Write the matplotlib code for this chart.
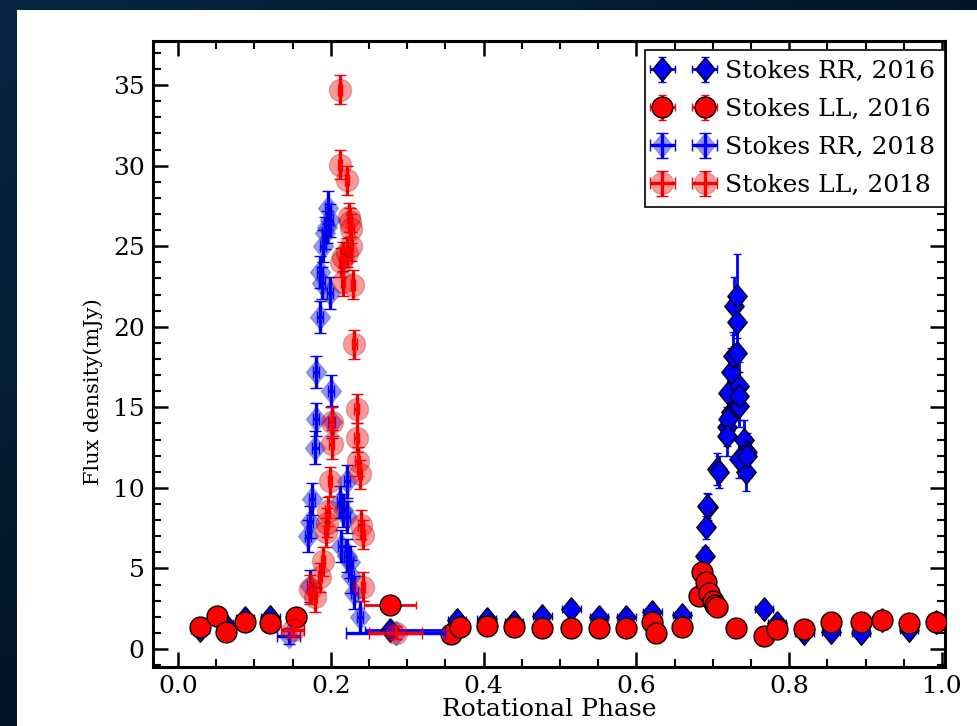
import numpy as np
import matplotlib
matplotlib.use("Agg")
import matplotlib.pyplot as plt
from matplotlib.patches import Rectangle
from matplotlib.ticker import MultipleLocator

plt.rcParams['font.family'] = ['DejaVu Serif']

# ---------------- data ----------------
# Stokes RR 2016 (blue opaque diamonds)
rr16_x = [0.029, 0.060, 0.088, 0.121, 0.278, 0.365, 0.404, 0.440, 0.477, 0.515,
          0.551, 0.587, 0.621, 0.660, 0.767, 0.784, 0.820, 0.855, 0.894, 0.921,
          0.957, 0.992,
          0.690, 0.691, 0.694, 0.693, 0.705, 0.708, 0.719, 0.724, 0.735, 0.720,
          0.720, 0.719, 0.724, 0.726, 0.732, 0.728, 0.732, 0.732, 0.735, 0.735,
          0.741, 0.745, 0.744, 0.735, 0.745]
rr16_y = [1.2, 1.6, 1.9, 2.0, 1.15, 1.8, 1.85, 1.7, 2.05, 2.45,
          2.0, 2.0, 2.3, 2.1, 2.5, 1.6, 1.0, 1.05, 1.0, 1.8,
          1.2, 1.7,
          5.75, 7.55, 8.8, 8.9, 11.15, 11.0, 13.8, 14.7, 15.1, 15.9,
          14.25, 13.2, 17.2, 18.2, 18.4, 21.3, 20.3, 21.9, 16.3, 15.7,
          13.0, 12.2, 11.0, 11.8, 12.0]
rr16_yerr = [0.3] * 22 + [0.6, 0.7, 0.8, 0.8, 1.0, 1.0, 1.2, 1.2, 1.3, 1.3,
                          1.3, 1.2, 1.5, 1.5, 1.6, 1.8, 1.8, 2.6, 1.5, 1.5,
                          1.2, 1.2, 1.2, 1.2, 1.2]
rr16_xlo = [0.012] * 4 + [0.033] + [0.012] * 17 + [0.006] * 25
rr16_xhi = [0.012] * 4 + [0.072] + [0.012] * 17 + [0.006] * 25

# Stokes LL 2016 (red opaque circles)
ll16_x = [0.029, 0.051, 0.063, 0.088, 0.121, 0.155, 0.277, 0.358, 0.369, 0.404,
          0.440, 0.477, 0.515, 0.551, 0.587, 0.621, 0.626, 0.660, 0.682, 0.686,
          0.691, 0.695, 0.700, 0.703, 0.706, 0.731, 0.767, 0.784, 0.820, 0.855,
          0.894, 0.921, 0.957, 0.992]
ll16_y = [1.35, 2.05, 1.05, 1.65, 1.6, 2.0, 2.7, 0.93, 1.35, 1.45,
          1.35, 1.3, 1.3, 1.3, 1.3, 1.65, 1.0, 1.35, 3.3, 4.75,
          4.15, 3.5, 3.0, 2.7, 2.6, 1.3, 0.8, 1.25, 1.25, 1.65,
          1.65, 1.8, 1.6, 1.65]
ll16_yerr = [0.25] * 34
ll16_xerr = [0.012] * 6 + [0.034] + [0.012] * 27

# Stokes RR 2018 (blue translucent diamonds)
rr18_x = [0.145, 0.173, 0.170, 0.173, 0.176, 0.180, 0.181, 0.181, 0.186, 0.186,
          0.188, 0.190, 0.192, 0.195, 0.196, 0.199, 0.199, 0.200, 0.201, 0.212,
          0.216, 0.221, 0.221, 0.214, 0.221, 0.225, 0.227, 0.231, 0.238, 0.285]
rr18_y = [0.8, 3.9, 7.0, 7.9, 9.3, 12.5, 14.25, 17.2, 20.6, 23.4,
          22.7, 25.0, 25.8, 26.2, 27.4, 26.6, 22.1, 16.0, 14.1, 9.1,
          8.6, 8.2, 10.4, 6.4, 5.8, 5.4, 4.5, 3.5, 2.0, 1.0]
rr18_yerr = [0.5] + [1.0] * 28 + [0.4]
rr18_xerr = [0.015] + [0.004] * 28 + [0.065]

# Stokes LL 2018 (red translucent circles)
ll18_x = [0.150, 0.173, 0.179, 0.186, 0.190, 0.194, 0.195, 0.196, 0.199, 0.201,
          0.201, 0.212, 0.212, 0.214, 0.216, 0.216, 0.221, 0.221, 0.224, 0.225,
          0.226, 0.227, 0.229, 0.231, 0.234, 0.234, 0.235, 0.238, 0.239, 0.242,
          0.242, 0.285]
ll18_y = [1.2, 3.7, 3.2, 4.45, 5.45, 7.25, 7.85, 8.55, 10.4, 12.7,
          14.1, 34.7, 30.05, 24.0, 24.35, 22.8, 29.1, 24.6, 26.8, 26.5,
          25.0, 26.1, 22.6, 18.9, 14.9, 13.1, 11.65, 10.85, 7.7, 7.1,
          3.85, 1.0]
ll18_yerr = [0.4] + [0.9] * 30 + [0.4]
ll18_xerr = [0.015] + [0.003] * 30 + [0.035]

labels = ["Stokes RR, 2016", "Stokes LL, 2016", "Stokes RR, 2018", "Stokes LL, 2018"]
xticks = [0.0, 0.2, 0.4, 0.6, 0.8, 1.0]
yticks = [0, 5, 10, 15, 20, 25, 30, 35]

# ---------------- figure ----------------
W, H = 978, 726
fig = plt.figure(figsize=(W / 100, H / 100), dpi=100)

# dark gradient frame
bg = fig.add_axes([0, 0, 1, 1], zorder=-10)
gx, gy = np.meshgrid(np.linspace(0, 1, 200), np.linspace(0, 1, 200))
t = np.clip(0.55 * gx + 0.6 * gy, 0, 1)
c0 = np.array([0.02, 0.15, 0.26])
c1 = np.array([0.0, 0.04, 0.08])
img = c0[None, None, :] * (1 - t[..., None]) + c1[None, None, :] * t[..., None]
bg.imshow(img, extent=[0, 1, 0, 1], aspect='auto', origin='upper')
bg.set_axis_off()
fig.add_artist(Rectangle((17 / W, 0), 1, (H - 10) / H, transform=fig.transFigure,
                         facecolor='white', edgecolor='none', zorder=-5))

ax = fig.add_axes([153 / W, (H - 667) / H, (945 - 153) / W, (667 - 41) / H])

diamond = [(0, 1), (0.82, 0), (0, -1), (-0.82, 0), (0, 1)]

h1 = ax.errorbar(rr16_x, rr16_y, yerr=rr16_yerr, xerr=[rr16_xlo, rr16_xhi],
                 fmt=' ', marker=diamond, ms=17, mfc='blue', mec='black', mew=1,
                 ecolor='blue', elinewidth=2, capsize=3, capthick=1.5, zorder=2,
                 label=labels[0])
h2 = ax.errorbar(ll16_x, ll16_y, yerr=ll16_yerr, xerr=ll16_xerr,
                 fmt=' ', marker='o', ms=15, mfc='red', mec='black', mew=1,
                 ecolor='red', elinewidth=2, capsize=3, capthick=1.5, zorder=3,
                 label=labels[1])
h3 = ax.errorbar(rr18_x, rr18_y, yerr=rr18_yerr, xerr=rr18_xerr,
                 fmt=' ', marker=diamond, ms=18, mfc=(0, 0, 1, 0.42),
                 mec=(0, 0, 0, 0.2), mew=1,
                 ecolor='blue', elinewidth=2.4, capsize=4, capthick=1.5, zorder=4,
                 label=labels[2])
h4 = ax.errorbar(ll18_x, ll18_y, yerr=ll18_yerr, xerr=ll18_xerr,
                 fmt=' ', marker='o', ms=16, mfc=(1, 0, 0, 0.4),
                 mec=(0, 0, 0, 0.2), mew=1,
                 ecolor='red', elinewidth=2.4, capsize=4, capthick=1.5, zorder=5,
                 label=labels[3])

ax.set_xlim(-0.0327, 1.004)
ax.set_ylim(-1.12, 37.74)
ax.set_xticks(xticks)
ax.set_yticks(yticks)
ax.xaxis.set_minor_locator(MultipleLocator(0.05))
ax.yaxis.set_minor_locator(MultipleLocator(1))
ax.tick_params(which='both', direction='in', top=True, right=True, labelsize=18)
ax.tick_params(which='major', length=11, width=1.8, pad=6)
ax.tick_params(which='minor', length=6, width=1.5)
for s in ax.spines.values():
    s.set_linewidth(2.2)

ax.set_xlabel("Rotational Phase", fontsize=18, labelpad=0)
ax.set_ylabel("Flux density(mJy)", fontsize=15)
ax.yaxis.set_label_coords(-0.063, 0.44)

leg = ax.legend(handles=[h1, h2, h3, h4], labels=labels, loc='upper right',
                bbox_to_anchor=(1.0, 0.986), borderaxespad=0, numpoints=2,
                fontsize=18, fancybox=False, framealpha=1, edgecolor='black',
                handlelength=2.3, handletextpad=0.5, labelspacing=0.6,
                borderpad=0.4)
leg.get_frame().set_linewidth(1.2)
leg.set_zorder(10)

fig.savefig("out.png", dpi=100)
